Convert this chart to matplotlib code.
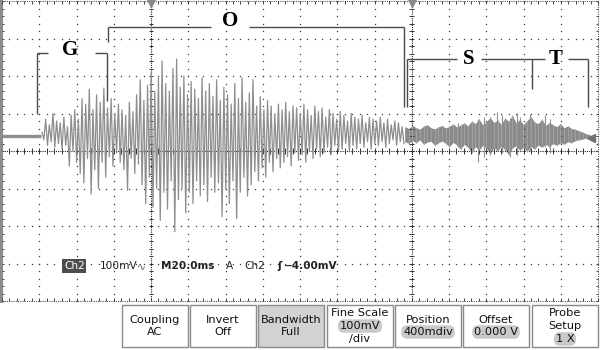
import numpy as np
import matplotlib
matplotlib.use("Agg")
import matplotlib.pyplot as plt
from matplotlib.patches import Rectangle

# ── acquisition settings (Ch2) ──────────────────────────────────────────────
VDIV = 100.0          # mV / div
TDIV = 20.0           # ms / div
POS_MV = 40.0         # position 400 mdiv -> +40 mV on screen
NDIV_X, NDIV_Y = 16, 8

# quiet lead-in
flat_t = [0.0, 21.0]
flat_v = [0.0, 0.0]

# burst (G + O): alternating peak / trough samples, mV
osc_t0, osc_t1 = 21.5, 215.8
osc_peaks = [10, 45, 30, 60, 40, 35, 50, 25, 55, 70,
             45, 100, 85, 125, 70, 110, 90, 128, 75, 100,
             60, 85, 70, 55, 90, 65, 110, 150, 95, 135,
             170, 120, 155, 200, 140, 120, 180, 205, 130, 160,
             110, 145, 125, 100, 155, 120, 140, 105, 150, 95,
             130, 110, 85, 140, 100, 155, 90, 115, 150, 80,
             105, 70, 95, 80, 60, 85, 70, 90, 65, 80,
             75, 60, 85, 70, 55, 80, 65, 75, 50, 70,
             60, 45, 65, 55, 40, 60, 50, 45, 55, 35,
             50, 45, 40, 50, 35, 45, 30, 40, 35, 25]
osc_troughs = [-10, -25, -15, -30, -20, -35, -25, -80, -40, -70,
               -100, -125, -60, -155, -90, -140, -70, -110, -55, -80,
               -45, -70, -90, -145, -60, -100, -75, -130, -180, -110,
               -190, -140, -225, -150, -195, -120, -255, -170, -140, -205,
               -150, -180, -120, -160, -130, -175, -110, -150, -125, -215,
               -140, -180, -120, -220, -150, -110, -160, -130, -95, -120,
               -85, -110, -70, -95, -60, -85, -70, -55, -80, -45,
               -65, -50, -70, -40, -60, -35, -55, -45, -30, -50,
               -25, -40, -35, -20, -40, -25, -35, -20, -30, -15,
               -35, -20, -25, -15, -30, -20, -10, -25, -15, -20]

# noise band (S + T): envelope, mV
band_t0, band_t1 = 216.4, 315.7
band_hi = [25, 20, 28, 22, 18, 26, 30, 22, 19, 24,
           28, 21, 26, 32, 24, 29, 35, 27, 40, 33,
           45, 30, 38, 50, 36, 42, 31, 48, 39, 55,
           35, 44, 30, 41, 52, 37, 33, 45, 28, 36,
           30, 25, 33, 22, 27, 20, 18, 14, 10, 6, 3]
band_lo = [-15, -20, -12, -18, -10, -22, -16, -14, -25, -18,
           -13, -20, -28, -17, -24, -35, -22, -30, -45, -28,
           -38, -25, -33, -48, -30, -40, -27, -36, -50, -32,
           -26, -38, -30, -42, -28, -35, -24, -30, -22, -28,
           -20, -25, -18, -22, -15, -18, -12, -10, -8, -5, -3]
spike_t = [244.8, 255.6, 258.8, 262.0, 265.8, 268.5, 272.8, 276.5, 278.1, 283.5, 291.5, 294.2]
spike_hi = [35, 45, 50, 40, 64, 55, 48, 62, 50, 58, 55, 45]
spike_lo = [-30, -69, -55, -50, -40, -45, -55, -50, -35, -40, -30, -45]

TRIG_MV = -4.0

# phase brackets: (segments in ms / screen mV), labels
bracket_segs = [
    # G
    ((18.8, 18.8), (99, 261)), ((18.8, 24.7), (261, 261)),
    ((49.9, 56.4), (261, 261)), ((56.4, 56.4), (261, 133)),
    # O
    ((56.9, 56.9), (291, 331)), ((56.9, 112.3), (331, 331)),
    ((132.6, 215.8), (331, 331)), ((215.8, 215.8), (331, 117)),
    # S / T
    ((217.4, 217.4), (117, 245)), ((217.4, 244.3), (245, 245)),
    ((257.2, 291.5), (245, 245)), ((284.6, 284.6), (245, 165)),
    ((303.9, 314.6), (245, 245)), ((314.6, 314.6), (245, 117)),
]
phase_labels = ["G", "O", "S", "T"]
phase_label_t = [36.5, 122.4, 250.7, 297.4]
phase_label_v = [269, 347, 245, 245]

# soft-key menu
btn_lines = [["Coupling", "AC"], ["Invert", "Off"], ["Bandwidth", "Full"],
             ["Fine Scale", "100mV", "/div"], ["Position", "400mdiv"],
             ["Offset", "0.000 V"], ["Probe", "Setup", "1 X"]]
btn_pill = [None, None, None, 1, 1, 1, 2]
btn_left = [122, 190, 258, 327, 395, 463, 532]

W, H = 600, 350
fig = plt.figure(figsize=(6, 3.5), dpi=100)
fig.patch.set_facecolor("white")

def fx(x):
    return x / W

def fy(y):
    return 1 - y / H

# ── graticule axes ─────────────────────────────────────────────────────────
ax = fig.add_axes([fx(2), 49 / H, 596 / W, 300 / H])
xmax, ymax = NDIV_X * TDIV, NDIV_Y / 2 * VDIV
ax.set_xlim(0, xmax)
ax.set_ylim(-ymax, ymax)
ax.axis("off")

dot = "#3c3c3c"
minor_x = np.arange(0, xmax + 0.1, TDIV / 5)
minor_y = np.arange(-ymax, ymax + 0.1, VDIV / 5)
for k in range(1, NDIV_Y):
    yv = -ymax + k * VDIV
    if yv == 0:
        continue
    ax.plot(minor_x, np.full_like(minor_x, yv), ls="none", marker="s", ms=0.9, color=dot, mec="none")
for k in range(1, NDIV_X):
    xv = k * TDIV
    if xv in (80, 220):
        continue
    ax.plot(np.full_like(minor_y, xv), minor_y, ls="none", marker="s", ms=0.9, color=dot, mec="none")

# centre axes and frame with minor ticks
tk_y = 7.0
tk_x = 1.3
ax.plot([0, xmax], [0, 0], ls=(0, (1, 1)), lw=0.8, color="#222222")
ax.vlines(minor_x, -tk_y, tk_y, lw=0.7, color="#333333")
for xv in (80, 220):
    ax.plot([xv, xv], [-ymax, ymax], ls=(0, (1, 1)), lw=0.8, color="#222222")
    ax.hlines(minor_y, xv - tk_x, xv + tk_x, lw=0.7, color="#333333")
ax.plot([0, xmax], [ymax, ymax], ls=(0, (1, 1)), lw=0.8, color="#555555", clip_on=False)
ax.plot([0, xmax], [-ymax, -ymax], ls=(0, (1, 1)), lw=0.8, color="#555555", clip_on=False)
ax.plot([xmax, xmax], [-ymax, ymax], ls=(0, (1, 1)), lw=0.8, color="#555555", clip_on=False)
ax.plot([-0.5, -0.5], [-ymax, ymax], lw=2.2, color="#8c8c8c", clip_on=False)
ax.vlines(minor_x, ymax - tk_y, ymax, lw=0.7, color="#444444", clip_on=False)
ax.vlines(minor_x, -ymax, -ymax + tk_y, lw=0.7, color="#444444", clip_on=False)
ax.hlines(minor_y, 0, tk_x, lw=0.7, color="#444444", clip_on=False)
ax.hlines(minor_y, xmax - tk_x, xmax, lw=0.7, color="#444444", clip_on=False)

# ── waveform ───────────────────────────────────────────────────────────────
trace = "#8e8e8e"
ax.plot(flat_t, np.array(flat_v) + POS_MV, color=trace, lw=2.4, solid_capstyle="butt")

osc_v = np.empty(2 * len(osc_peaks))
osc_v[0::2] = osc_peaks
osc_v[1::2] = osc_troughs
osc_t = np.linspace(osc_t0, osc_t1, len(osc_v))
ax.plot(osc_t, osc_v + POS_MV, color=trace, lw=0.9)

band_t = np.linspace(band_t0, band_t1, len(band_hi))
band_lo_s = np.array(band_lo) + POS_MV
band_hi_s = np.array(band_hi) + POS_MV
ax.fill_between(band_t, band_lo_s, band_hi_s, color="#8a8a8a", lw=0)
ax.vlines(band_t, band_lo_s, band_hi_s, color="#a0a0a0", lw=0.8)
ax.vlines(spike_t, np.array(spike_lo) + POS_MV, np.array(spike_hi) + POS_MV, color="#909090", lw=0.8)

# trigger position / level markers
ax.plot([80, 220], [ymax - 4, ymax - 4], ls="none", marker="v", ms=6, color="#8a8a8a", clip_on=False)
ax.plot([xmax - 3.5], [TRIG_MV + POS_MV], ls="none", marker="<", ms=5.5, color="#707070")

# ── phase brackets ─────────────────────────────────────────────────────────
for xs, ys in bracket_segs:
    ax.plot(xs, ys, color="#4a4a4a", lw=1.0, solid_capstyle="butt", clip_on=False)
for lab, t, v in zip(phase_labels, phase_label_t, phase_label_v):
    ax.text(t, v, lab, ha="center", va="center", fontsize=15, fontweight="bold",
            family="Liberation Serif", color="black")

# ── readout line ───────────────────────────────────────────────────────────
ro = dict(fontsize=7.6, va="center", family="DejaVu Sans")
fig.text(fx(64), fy(266), "Ch2", color="white",
         bbox=dict(boxstyle="square,pad=0.15", fc="#4d4d4d", ec="none"), **ro)
fig.text(fx(100), fy(266), "100mV", color="#222222", **ro)
fig.text(fx(137), fy(266), "\u223f", color="#555555", **ro)
fig.text(fx(161), fy(266), "M20.0ms", fontweight="bold", color="#222222", **ro)
fig.text(fx(226), fy(266), "A", color="#222222", **ro)
fig.text(fx(244), fy(266), "Ch2", color="#222222", **ro)
fig.text(fx(277), fy(266), "\u0283", fontweight="bold", color="#222222", **ro)
fig.text(fx(284), fy(266), "\u22124.00mV", fontweight="bold", color="#222222", **ro)

# ── soft-key menu ──────────────────────────────────────────────────────────
ov = fig.add_axes([0, 0, 1, 1])
ov.set_xlim(0, W)
ov.set_ylim(H, 0)
ov.axis("off")
ov.patch.set_alpha(0)
bw, top, bot = 66, 305, 347
for i, (x0, lines) in enumerate(zip(btn_left, btn_lines)):
    fc = "#d2d2d2" if lines[0] == "Bandwidth" else "white"
    ov.add_patch(Rectangle((x0, top), bw, bot - top, fc=fc, ec="#8a8a8a", lw=1.0))
    ys = [320, 332] if len(lines) == 2 else [313, 326, 339]
    cx = x0 + bw / 2
    for j, (s, yy) in enumerate(zip(lines, ys)):
        kw = {}
        if btn_pill[i] == j:
            kw["bbox"] = dict(boxstyle="round,pad=0.15,rounding_size=0.5", fc="#c9c9c9", ec="none")
        ov.text(cx, yy, s, ha="center", va="center", fontsize=8.2,
                family="DejaVu Sans", color="#111111", **kw)

fig.savefig("out.png", dpi=100, facecolor="white")
